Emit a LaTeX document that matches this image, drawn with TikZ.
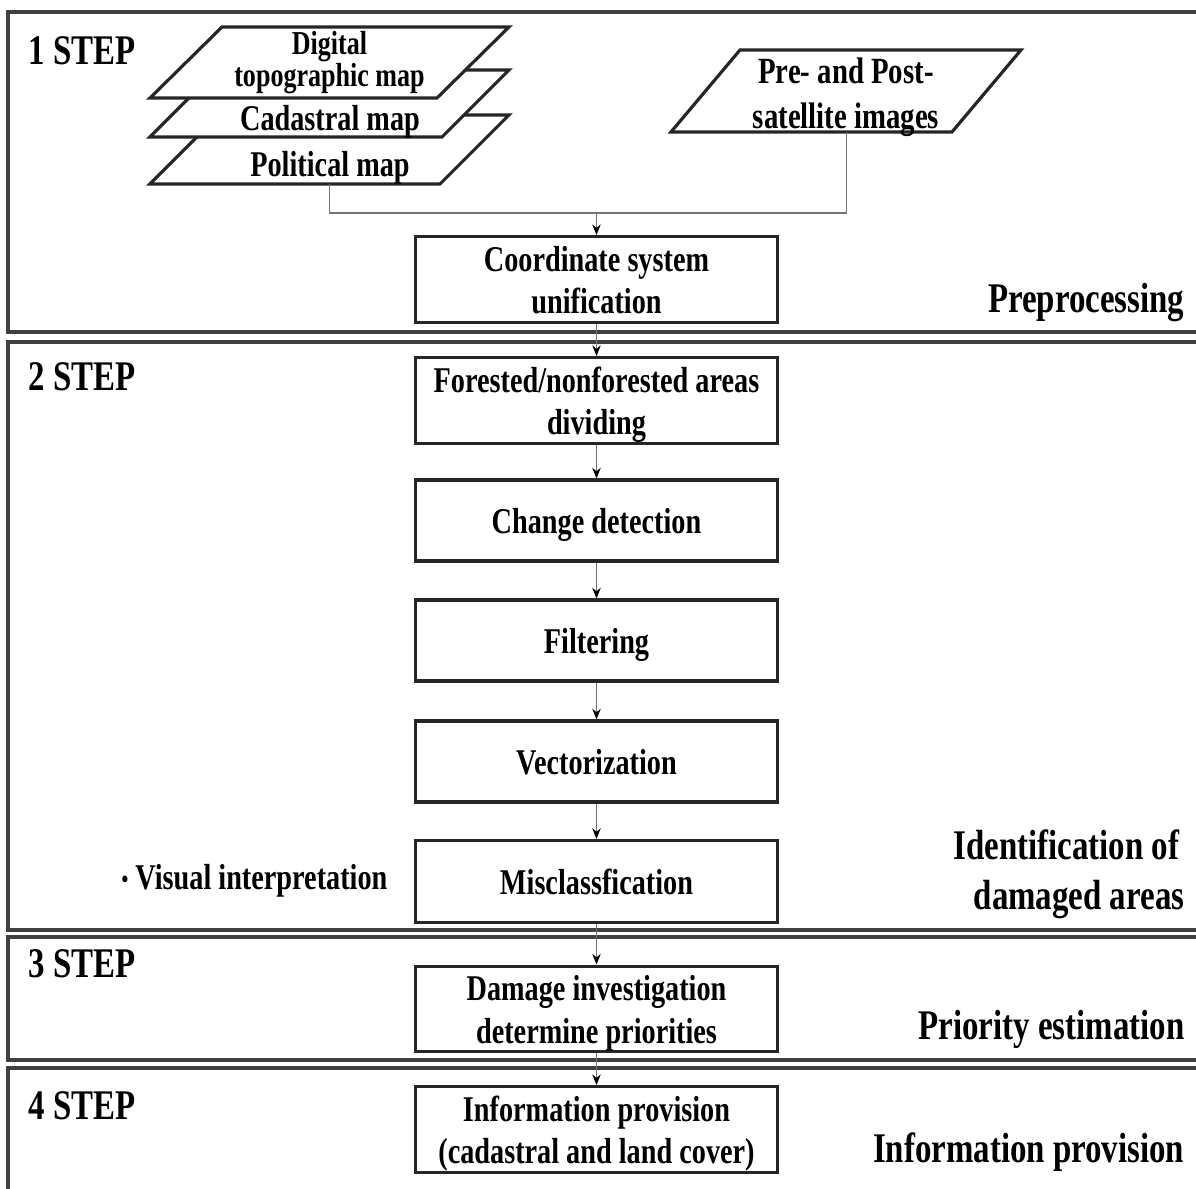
\documentclass[tikz,border=0pt]{standalone}
\usepackage{fontspec}
\setmainfont{Liberation Serif}[FakeStretch=0.78]
\usetikzlibrary{arrows.meta}
\newcommand\bxfont{\bfseries\fontsize{10.3}{12.2}\selectfont}
\newcommand\lbfont{\bfseries\fontsize{12}{14.2}\selectfont}
\newcommand\smfont{\bfseries\fontsize{9.5}{9.1}\selectfont}
\newcommand\bt[1]{\raisebox{-1.25pt}[\height][\depth]{\begin{tabular}{@{}c@{}}#1\end{tabular}}}
\tikzset{
  frame/.style={draw=black!75, line width=1.2pt},
  stepbox/.style={draw=black!85, line width=0.9pt, fill=white, minimum width=3.61cm,
    minimum height=0.81cm, inner sep=0pt, align=center, font=\bxfont},
  layer/.style={draw=black!85, line width=0.9pt, fill=white, line join=miter},
  link/.style={draw=black!55, line width=0.45pt},
  conn/.style={link, -{Stealth[length=3pt,width=2.4pt,color=black]}},
  steplabel/.style={anchor=base west, font=\lbfont, inner sep=0pt},
  phase/.style={anchor=base east, font=\lbfont, inner sep=0pt, align=right},
  txt/.style={inner sep=0pt, align=center},
}
\begin{document}
\begin{tikzpicture}[x=0.01cm,y=-0.01cm]
\useasboundingbox (0,0) rectangle (1196,1189);
\fill[white] (0,0) rectangle (1196,1189);
\clip (0,0) rectangle (1196,1189);

% section frames
\draw[frame] (8,12) rectangle (1215,332);
\draw[frame] (8,342) rectangle (1215,930);
\draw[frame] (8,937) rectangle (1215,1060);
\draw[frame] (8,1068) rectangle (1215,1215);

% step labels
\node[steplabel] (s1) at (28,65) {1 STEP};
\node[steplabel] (s2) at (28,391) {2 STEP};
\node[steplabel] (s3) at (28,978) {3 STEP};
\node[steplabel] (s4) at (28,1120) {4 STEP};

% phase labels
\node[phase] (p1) at (1185,313) {Preprocessing};
\node[phase] (p2a) at (1180,860) {Identification of};
\node[phase] (p2b) at (1185,910) {damaged areas};
\node[phase] (p3) at (1185,1040) {Priority estimation};
\node[phase] (p4) at (1185,1163) {Information provision};

% input layers (back to front)
\draw[layer] (150,184) -- (219,115) -- (509,115) -- (440,184) -- cycle;
\draw[layer] (150,137) -- (217,70) -- (509,70) -- (442,137) -- cycle;
\draw[layer] (150,98) -- (222,27) -- (509,27) -- (437,98) -- cycle;
\draw[layer] (671,132) -- (740,50) -- (1021,50) -- (952,132) -- cycle;
\coordinate (polb) at (329.5,184);
\coordinate (preb) at (846.5,132);

\node[txt, font=\smfont] (dig) at (329.5,62.5) {Digital\\topographic map};
\node[txt, font=\bxfont] (cad) at (330,122) {Cadastral map};
\node[txt, font=\bxfont] (pol) at (330,168) {Political map};
\node[txt, font=\bfseries\fontsize{10.5}{12.8}\selectfont] (pre) at (846,97)
      {Pre- and Post-\\satellite images};

% process boxes
\node[stepbox, minimum height=0.83cm] (unif) at (596.5,279.5) {\bt{Coordinate system\\unification}};
\node[stepbox] (forest) at (596.5,400.5) {\bt{Forested/nonforested areas\\dividing}};
\node[stepbox] (change) at (596.5,520.5) {\bt{Change detection}};
\node[stepbox] (filt) at (596.5,640.5) {\bt{Filtering}};
\node[stepbox] (vect) at (596.5,761.5) {\bt{Vectorization}};
\node[stepbox, minimum height=0.82cm] (miscl) at (596.5,881.5) {\bt{Misclassfication}};
\node[stepbox, minimum height=0.82cm] (damage) at (596.5,1009) {\bt{Damage investigation\\determine priorities}};
\node[stepbox] (info) at (596.5,1129.5) {\bt{Information provision\\(cadastral and land cover)}};

\node[anchor=base west, inner sep=0pt, font=\bxfont] (vis) at (121,890)
  {\raisebox{0.6pt}{\fontsize{7}{8}\selectfont•} Visual interpretation};

% connectors
\coordinate (join) at (596.5,213);
\draw[link] (polb) |- (join);
\draw[link] (preb) |- (join);
\draw[conn] (join) -- (unif.north);
\draw[conn] (unif) -- (forest);
\draw[conn] (forest) -- (change);
\draw[conn] (change) -- (filt);
\draw[conn] (filt) -- (vect);
\draw[conn] (vect) -- (miscl);
\draw[conn] (miscl) -- (damage);
\draw[conn] (damage) -- (info);
\end{tikzpicture}
\end{document}
